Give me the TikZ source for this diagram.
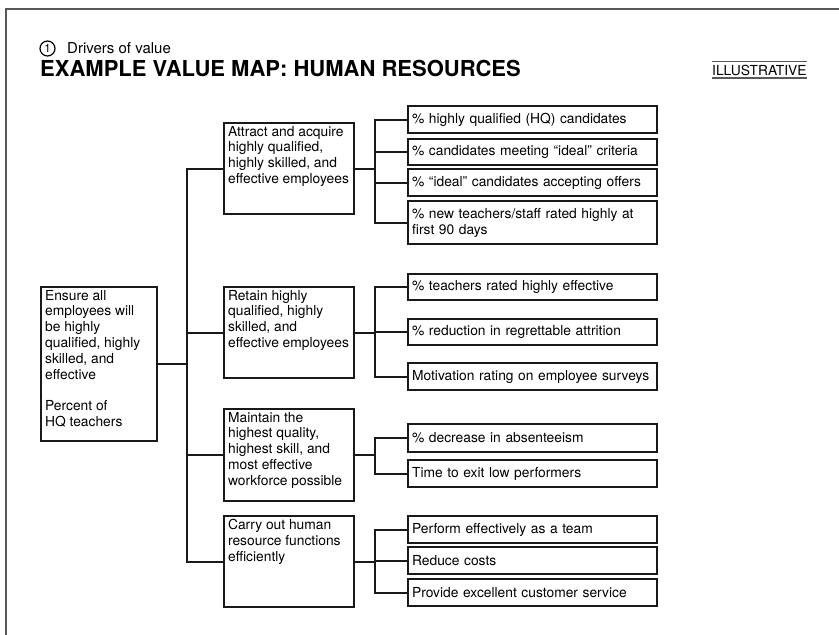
\documentclass[tikz,border=0pt]{standalone}
\usepackage{fontspec}
\setmainfont{TeX Gyre Heros}
\usetikzlibrary{calc}
\newcommand{\tbox}[3]{\parbox[t][#2][t]{#1}{\raggedright #3}}
\tikzset{
  box/.style={draw=black!90, line width=2.2pt, anchor=north west, inner xsep=4pt, inner ysep=3pt},
  leaf/.style={box, text width=241pt, align=left, minimum height=#1},
  link/.style={draw=black!90, line width=2.2pt},
  frame/.style={draw=black!65, line width=1.5pt},
}

\begin{document}
\begin{tikzpicture}[x=1pt,y=-1pt,font=\fontsize{13.8}{15.8}\selectfont]
\useasboundingbox (0,0) rectangle (839,635);

\coordinate (spine) at (187,0);
\coordinate (fork) at (375,0);

\draw[frame] (839,9) -- (6,9) -- (6,635);

\node[circle,draw,line width=1.2pt,inner sep=0pt,minimum size=15pt] (num) at (47.5,48.5) {\fontsize{11.5}{12}\selectfont 1};
\node[anchor=base west,inner sep=0] (sub) at (67,53) {\fontsize{15}{17}\selectfont Drivers of value};
\node[anchor=base west,inner sep=0] (title) at (40,76.5) {\fontsize{22}{24}\selectfont\bfseries EXAMPLE VALUE MAP: HUMAN RESOURCES};
\node[anchor=base west,inner sep=0] (tag) at (712,75) {ILLUSTRATIVE};
\draw[frame] ([yshift=3pt]tag.north west) -- ([yshift=3pt]tag.north east);
\draw[frame] ([yshift=-3pt]tag.base west) -- ([yshift=-3pt]tag.base east);

\node[box] (root) at (40,286) {\tbox{108pt}{148pt}{Ensure all\\employees will\\be highly\\qualified, highly\\skilled, and\\effective\\[15.8pt]Percent of\\HQ teachers}};

\node[box] (attract) at (223,122) {\tbox{122pt}{85pt}{Attract and acquire\\highly qualified,\\highly skilled, and\\effective employees}};
\node[box] (retain) at (223,286) {\tbox{122pt}{85pt}{Retain highly\\qualified, highly\\skilled, and\\effective employees}};
\node[box] (maintain) at (223,408) {\tbox{122pt}{86pt}{Maintain the\\highest quality,\\highest skill, and\\most effective\\workforce possible}};
\node[box] (carry) at (223,515) {\tbox{122pt}{85pt}{Carry out human\\resource functions\\efficiently}};

\node[leaf=27pt] (a1) at (407,105) {\% highly qualified (HQ) candidates};
\node[leaf=26pt] (a2) at (407,138) {\% candidates meeting “ideal” criteria};
\node[leaf=27pt] (a3) at (407,168) {\% “ideal” candidates accepting offers};
\node[leaf=43pt] (a4) at (407,200) {\% new teachers/staff rated highly at\\first 90 days};

\node[leaf=26pt] (r1) at (407,273) {\% teachers rated highly effective};
\node[leaf=26pt] (r2) at (407,318) {\% reduction in regrettable attrition};
\node[leaf=27pt] (r3) at (407,362) {Motivation rating on employee surveys};

\node[leaf=28pt] (m1) at (407,423) {\% decrease in absenteeism};
\node[leaf=27pt] (m2) at (407,459) {Time to exit low performers};

\node[leaf=27pt] (c1) at (407,515) {Perform effectively as a team};
\node[leaf=27pt] (c2) at (407,546) {Reduce costs};
\node[leaf=27pt] (c3) at (407,578) {Provide excellent customer service};

\draw[link] (root.east) -- (root.east -| spine);
\draw[link] (attract.west) -| (spine |- carry.west) -- (carry.west);
\foreach \grp in {retain,maintain}
  \draw[link] (\grp.west) -- (\grp.west -| spine);

\foreach \grp/\fst/\lst in {attract/a1/a4,retain/r1/r3,maintain/m1/m2,carry/c1/c3} {
  \draw[link] (\grp.east) -- (\grp.east -| fork);
  \draw[link] (\fst.west) -| (fork |- \lst.west) -- (\lst.west);
}
\foreach \lf in {a2,a3,r2,c2}
  \draw[link] (\lf.west) -- (\lf.west -| fork);

\end{tikzpicture}
\end{document}
